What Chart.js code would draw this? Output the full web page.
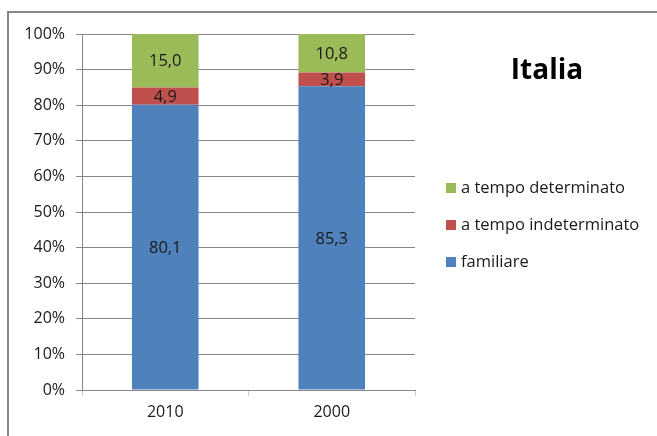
<!DOCTYPE html>
<html>
<head>
<meta charset="utf-8">
<script src="https://cdn.jsdelivr.net/npm/chart.js@4/dist/chart.umd.min.js"></script>
<style>
  html, body { margin: 0; padding: 0; background: #fff; overflow: hidden; }
  #wrap { position: relative; width: 657px; height: 436px; }
  #frame { position: absolute; left: 7px; top: 11px; width: 700px; height: 500px;
           border-left: 2px solid #878787; border-top: 2px solid #878787; }
  canvas { position: absolute; left: 0; top: 0; }
</style>
</head>
<body>
<div id="wrap">
  <div id="frame"></div>
  <canvas id="chart" width="657" height="436"></canvas>
</div>
<script>
const years = ['2010', '2000'];
const familiare = [80.1, 85.3];
const indeterminato = [4.9, 3.9];
const determinato = [15.0, 10.8];
const chartTitle = 'Italia';

const FONT = '"Open Sans", Lato, sans-serif';
Chart.defaults.font.family = FONT;
Chart.defaults.font.size = 16;
Chart.defaults.color = '#1a1a1a';

// etichette dentro le barre
const valueLabels = {
  id: 'valueLabels',
  afterDatasetsDraw(chart) {
    const ctx = chart.ctx;
    ctx.save();
    ctx.font = '16.5px ' + FONT;
    ctx.fillStyle = '#1a1a1a';
    ctx.textAlign = 'center';
    ctx.textBaseline = 'middle';
    chart.data.datasets.forEach((ds, i) => {
      chart.getDatasetMeta(i).data.forEach((bar, j) => {
        const p = bar.getProps(['x', 'y', 'base'], true);
        ctx.fillText(ds.data[j].toFixed(1).replace('.', ','), p.x, (p.y + p.base) / 2 + 1);
      });
    });
    ctx.restore();
  }
};

// titolo e legenda a destra
const sideLegend = {
  id: 'sideLegend',
  afterDraw(chart) {
    const ctx = chart.ctx;
    ctx.save();
    ctx.fillStyle = '#000';
    ctx.font = 'bold 28px ' + FONT;
    ctx.textAlign = 'center';
    ctx.textBaseline = 'middle';
    ctx.fillText(chartTitle, 547, 71);

    ctx.font = '16.5px ' + FONT;
    ctx.textAlign = 'left';
    const rows = [188, 225, 262];
    const sets = chart.data.datasets.slice().reverse();
    sets.forEach((ds, k) => {
      ctx.fillStyle = ds.backgroundColor;
      ctx.fillRect(446, rows[k] - 5, 10, 10);
      ctx.fillStyle = '#1a1a1a';
      ctx.fillText(ds.label, 461, rows[k]);
    });
    ctx.restore();
  }
};

new Chart(document.getElementById('chart'), {
  type: 'bar',
  data: {
    labels: years,
    datasets: [
      { label: 'familiare', data: familiare, backgroundColor: '#4F81BD' },
      { label: 'a tempo indeterminato', data: indeterminato, backgroundColor: '#C0504D' },
      { label: 'a tempo determinato', data: determinato, backgroundColor: '#9BBB59' },
    ]
  },
  options: {
    responsive: false,
    animation: false,
    events: [],
    layout: { padding: { left: 0, top: 34, right: 242, bottom: 0 } },
    datasets: { bar: { categoryPercentage: 1, barPercentage: 0.4 } },
    scales: {
      x: {
        stacked: true,
        afterFit(scale) { scale.height = 46; },
        grid: {
          offset: true,
          drawOnChartArea: false,
          drawTicks: true,
          tickLength: 6,
          color: '#c8c8c8',
        },
        border: { color: '#878787', width: 1 },
        ticks: { padding: 7 }
      },
      y: {
        stacked: true,
        min: 0,
        max: 100,
        afterFit(scale) { scale.width = 82; },
        grid: { color: '#878787', tickLength: 6, lineWidth: 1 },
        border: { color: '#878787', width: 1 },
        ticks: {
          stepSize: 10,
          padding: 11,
          callback: (v) => v + '%'
        }
      }
    },
    plugins: {
      legend: { display: false },
      tooltip: { enabled: false },
      title: { display: false }
    }
  },
  plugins: [valueLabels, sideLegend]
});
</script>
</body>
</html>
